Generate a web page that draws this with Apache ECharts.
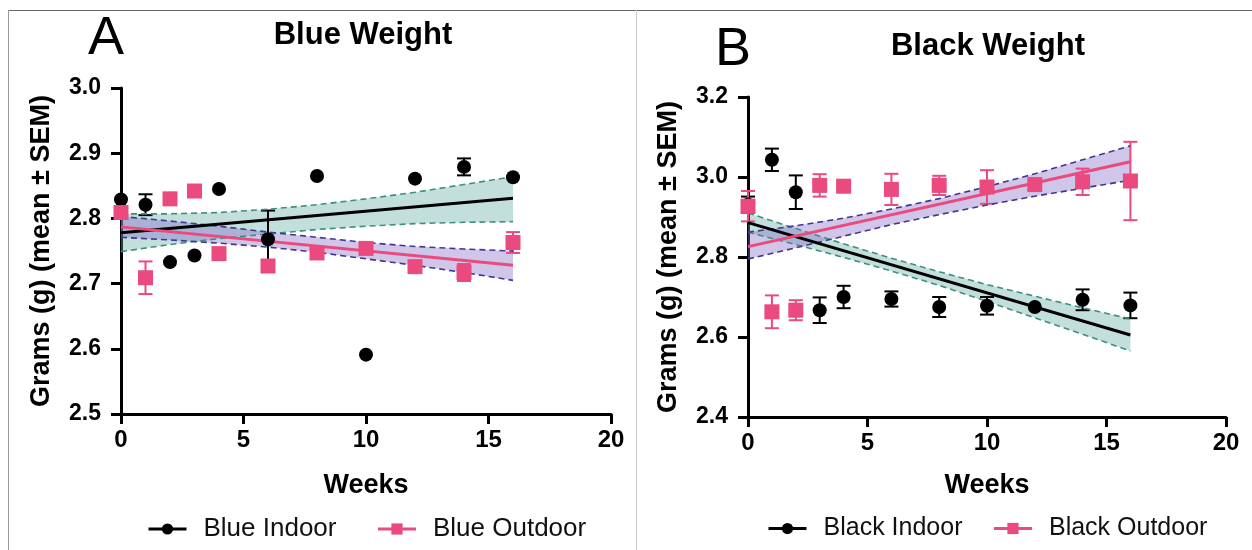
<!DOCTYPE html>
<html>
<head>
<meta charset="utf-8">
<script src="https://cdn.jsdelivr.net/npm/echarts@6/dist/echarts.min.js"></script>
<style>
  html, body { margin: 0; background: #fff; }
  #chart { width: 1252px; height: 550px; }
</style>
</head>
<body>
<div id="chart"></div>
<script>
// weeks sampled
const weeks = [0, 1, 2, 3, 4, 6, 8, 10, 12, 14, 16];

// panel A - blue
const blueIndoor = [2.829, 2.821, 2.733, 2.743, 2.845, 2.768, 2.865, 2.591, 2.861, 2.879, 2.863];
const blueIndoorSem = [0, 0.016, 0, 0, 0, 0.044, 0, 0, 0, 0.013, 0];
const blueOutdoor = [2.809, 2.709, 2.830, 2.842, 2.746, 2.727, 2.747, 2.754, 2.726, 2.717, 2.763];
const blueOutdoorSem = [0, 0.025, 0, 0, 0, 0.008, 0, 0, 0, 0.013, 0.016];

// panel B - black
const blackIndoor = [2.931, 3.043, 2.962, 2.667, 2.700, 2.695, 2.675, 2.678, 2.675, 2.693, 2.679];
const blackIndoorSem = [0.020, 0.028, 0.042, 0.032, 0.028, 0.019, 0.025, 0.022, 0, 0.026, 0.032];
const blackOutdoor = [2.927, 2.663, 2.667, 2.979, 2.977, 2.969, 2.979, 2.975, 2.981, 2.988, 2.990];
const blackOutdoorSem = [0.038, 0.041, 0.025, 0.028, 0, 0.039, 0.024, 0.042, 0, 0.033, 0.098];

// regression lines (ends) and 95% bands
const fitEnds = [0, 16];
const blueIndoorFit = [2.778, 2.831];
const blueOutdoorFit = [2.787, 2.728];
const blackIndoorFit = [2.886, 2.605];
const blackOutdoorFit = [2.826, 3.038];

const bandWeeks = [0, 2, 4, 6, 8, 10, 12, 14, 16];
const blueIndoorUpper = [2.807, 2.807, 2.809, 2.814, 2.821, 2.830, 2.840, 2.852, 2.864];
const blueIndoorLower = [2.749, 2.760, 2.769, 2.776, 2.783, 2.788, 2.792, 2.794, 2.795];
const blueOutdoorUpper = [2.803, 2.796, 2.788, 2.779, 2.771, 2.763, 2.757, 2.753, 2.750];
const blueOutdoorLower = [2.771, 2.767, 2.762, 2.756, 2.748, 2.738, 2.728, 2.717, 2.705];
const blackIndoorUpper = [2.910, 2.871, 2.833, 2.797, 2.763, 2.731, 2.702, 2.673, 2.645];
const blackIndoorLower = [2.862, 2.831, 2.799, 2.765, 2.729, 2.689, 2.648, 2.607, 2.565];
const blackOutdoorUpper = [2.862, 2.878, 2.897, 2.920, 2.946, 2.976, 3.008, 3.043, 3.078];
const blackOutdoorLower = [2.795, 2.823, 2.852, 2.881, 2.906, 2.930, 2.952, 2.972, 2.992];

const xTicks = { min: 0, max: 20, interval: 5 };
const yTicksA = { min: 2.5, max: 3.0, interval: 0.1 };
const yTicksB = { min: 2.4, max: 3.2, interval: 0.2 };

const FONT = "'Liberation Sans', Arial, Helvetica, sans-serif";
const PINK = "#ea4a7e";
const TEAL_FILL = "rgba(95,170,160,0.38)";
const TEAL_LINE = "#3f8f80";
const PURPLE_FILL = "rgba(130,105,200,0.38)";
const PURPLE_LINE = "#46358f";

const pairs = (xs, ys) => xs.map((x, i) => [x, ys[i]]);

function xAxis(grid, gap) {
  return {
    type: "value", gridIndex: grid, ...xTicks,
    name: "Weeks", nameLocation: "middle", nameGap: gap,
    nameTextStyle: { fontFamily: FONT, fontWeight: "bold", fontSize: 27, color: "#000" },
    axisLine: { show: true, lineStyle: { color: "#000", width: 3 } },
    axisTick: { show: true, length: 10, lineStyle: { width: 3 } },
    axisLabel: { fontFamily: FONT, fontWeight: "bold", fontSize: 24, color: "#000", margin: 14 },
    splitLine: { show: false }
  };
}

function yAxis(grid, ticks) {
  return {
    type: "value", gridIndex: grid, ...ticks,
    name: "Grams (g) (mean \u00b1 SEM)", nameLocation: "middle", nameGap: 66,
    nameTextStyle: { fontFamily: FONT, fontWeight: "bold", fontSize: 27, color: "#000" },
    axisLine: { show: true, lineStyle: { color: "#000", width: 3 } },
    axisTick: { show: true, length: 10, lineStyle: { width: 3 } },
    axisLabel: { fontFamily: FONT, fontWeight: "bold", fontSize: 23, color: "#000", margin: 20,
      formatter: v => v.toFixed(1) },
    splitLine: { show: false }
  };
}

function band(grid, lower, upper, fill) {
  return {
    type: "custom", xAxisIndex: grid, yAxisIndex: grid, silent: true,
    data: bandWeeks.map((w, i) => [w, lower[i], upper[i]]),
    encode: { x: 0, y: [1, 2] },
    renderItem: function (params, api) {
      if (params.dataIndex !== 0) return;
      const pts = [];
      bandWeeks.forEach((w, i) => pts.push(api.coord([w, upper[i]])));
      for (let i = bandWeeks.length - 1; i >= 0; i--) pts.push(api.coord([bandWeeks[i], lower[i]]));
      return { type: "polygon", shape: { points: pts }, style: { fill: fill } };
    }
  };
}

function dashed(grid, vals, color) {
  return {
    type: "line", xAxisIndex: grid, yAxisIndex: grid, silent: true,
    data: pairs(bandWeeks, vals), symbol: "none",
    lineStyle: { color: color, width: 1.6, type: [6, 4] }
  };
}

function fit(grid, vals, color) {
  return {
    type: "line", xAxisIndex: grid, yAxisIndex: grid, silent: true,
    data: pairs(fitEnds, vals), symbol: "none",
    lineStyle: { color: color, width: 3 }
  };
}

function errBars(grid, means, sems, color) {
  return {
    type: "custom", xAxisIndex: grid, yAxisIndex: grid, silent: true,
    data: weeks.map((w, i) => [w, means[i], sems[i]]),
    encode: { x: 0, y: 1 },
    renderItem: function (params, api) {
      const x = api.value(0), m = api.value(1), s = api.value(2);
      if (!s) return;
      const top = api.coord([x, m + s]);
      const bot = api.coord([x, m - s]);
      const hw = 7;
      const st = { stroke: color, lineWidth: 2 };
      return {
        type: "group", children: [
          { type: "line", shape: { x1: top[0], y1: top[1], x2: bot[0], y2: bot[1] }, style: st },
          { type: "line", shape: { x1: top[0] - hw, y1: top[1], x2: top[0] + hw, y2: top[1] }, style: st },
          { type: "line", shape: { x1: bot[0] - hw, y1: bot[1], x2: bot[0] + hw, y2: bot[1] }, style: st }
        ]
      };
    }
  };
}

function points(grid, name, vals, color, symbol, size) {
  return {
    type: "line", name: name, xAxisIndex: grid, yAxisIndex: grid,
    data: pairs(weeks, vals), symbol: symbol, symbolSize: size,
    itemStyle: { color: color, opacity: 1 },
    lineStyle: { color: color, width: 0, opacity: 0 },
    z: 5
  };
}

function legend(names, left, gap, size) {
  return {
    data: names, left: left, top: 511, orient: "horizontal",
    itemWidth: 38, itemHeight: 14, itemGap: gap,
    lineStyle: { width: 3, opacity: 1 },
    textStyle: { fontFamily: FONT, fontSize: size, color: "#111", padding: [0, 0, 0, 12] }
  };
}

function label(text, x, y, font) {
  return { type: "text", style: { text: text, x: x, y: y, align: "center", verticalAlign: "middle",
    font: font, fill: "#000" } };
}

const option = {
  animation: false,
  backgroundColor: "#fff",
  grid: [
    { left: 121, top: 88, width: 490, height: 326 },
    { left: 748, top: 97, width: 478, height: 320 }
  ],
  xAxis: [xAxis(0, 58), xAxis(1, 55)],
  yAxis: [yAxis(0, yTicksA), yAxis(1, yTicksB)],
  legend: [
    legend(["Blue Indoor", "Blue Outdoor"], 142, 40, 26),
    legend(["Black Indoor", "Black Outdoor"], 762, 30, 25)
  ],
  graphic: [
    { type: "line", shape: { x1: 8, y1: 10.5, x2: 1252, y2: 10.5 }, style: { stroke: "#666", lineWidth: 1 } },
    { type: "line", shape: { x1: 8.5, y1: 10, x2: 8.5, y2: 550 }, style: { stroke: "#999", lineWidth: 1 } },
    { type: "line", shape: { x1: 636.5, y1: 10, x2: 636.5, y2: 550 }, style: { stroke: "#ccc", lineWidth: 1 } },
    label("A", 106, 39, "54px " + FONT),
    label("Blue Weight", 363, 35, "bold 31px " + FONT),
    label("B", 733, 50, "54px " + FONT),
    label("Black Weight", 988, 46, "bold 31px " + FONT)
  ],
  series: [
    band(0, blueIndoorLower, blueIndoorUpper, TEAL_FILL),
    band(0, blueOutdoorLower, blueOutdoorUpper, PURPLE_FILL),
    dashed(0, blueIndoorUpper, TEAL_LINE),
    dashed(0, blueIndoorLower, TEAL_LINE),
    dashed(0, blueOutdoorUpper, PURPLE_LINE),
    dashed(0, blueOutdoorLower, PURPLE_LINE),
    fit(0, blueIndoorFit, "#000"),
    fit(0, blueOutdoorFit, PINK),
    errBars(0, blueIndoor, blueIndoorSem, "#000"),
    errBars(0, blueOutdoor, blueOutdoorSem, PINK),
    points(0, "Blue Indoor", blueIndoor, "#000", "circle", 14),
    points(0, "Blue Outdoor", blueOutdoor, PINK, "rect", 15),

    band(1, blackIndoorLower, blackIndoorUpper, TEAL_FILL),
    band(1, blackOutdoorLower, blackOutdoorUpper, PURPLE_FILL),
    dashed(1, blackIndoorUpper, TEAL_LINE),
    dashed(1, blackIndoorLower, TEAL_LINE),
    dashed(1, blackOutdoorUpper, PURPLE_LINE),
    dashed(1, blackOutdoorLower, PURPLE_LINE),
    fit(1, blackIndoorFit, "#000"),
    fit(1, blackOutdoorFit, PINK),
    errBars(1, blackIndoor, blackIndoorSem, "#000"),
    errBars(1, blackOutdoor, blackOutdoorSem, PINK),
    points(1, "Black Indoor", blackIndoor, "#000", "circle", 14),
    points(1, "Black Outdoor", blackOutdoor, PINK, "rect", 15)
  ]
};

echarts.init(document.getElementById("chart")).setOption(option);
</script>
</body>
</html>
